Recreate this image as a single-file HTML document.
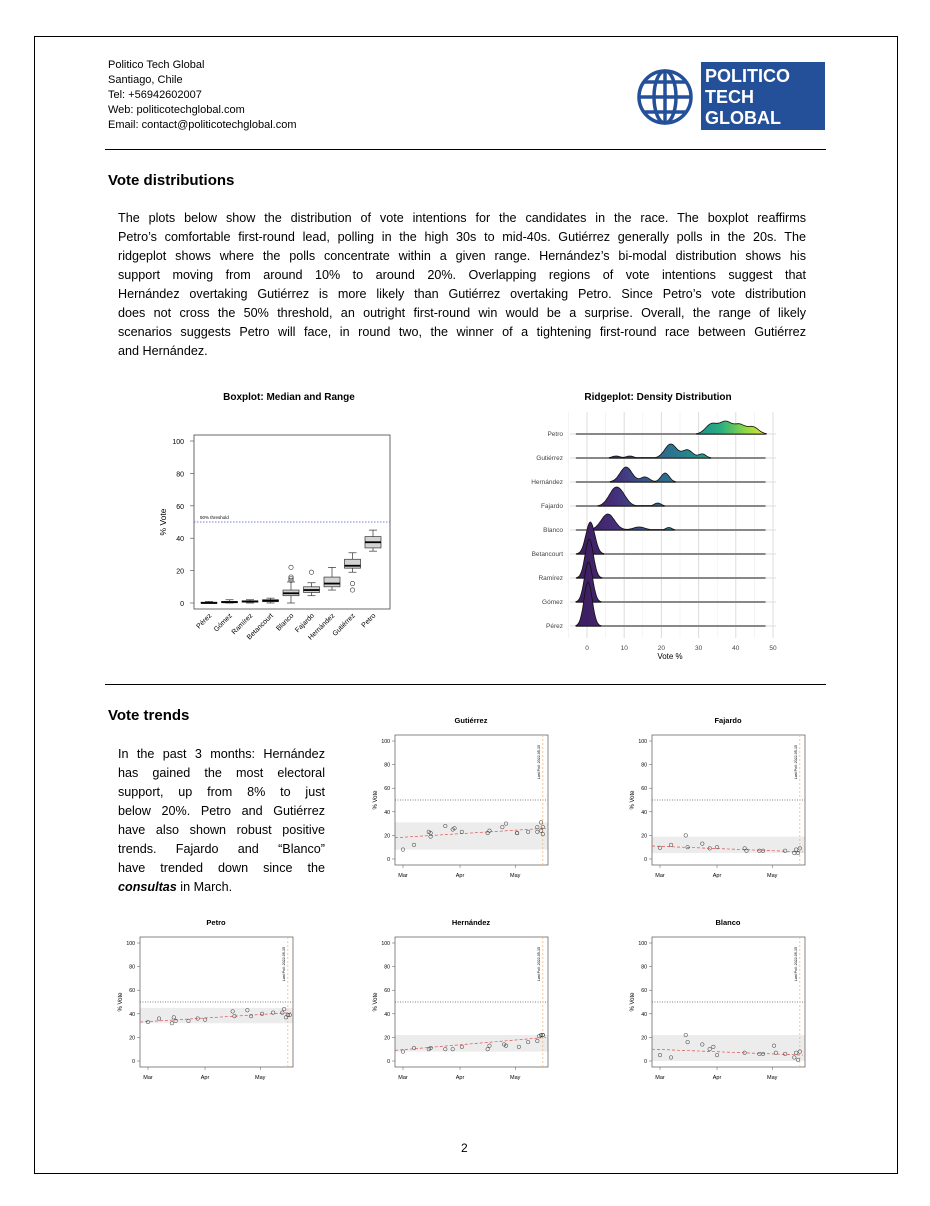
<!DOCTYPE html>
<html><head><meta charset="utf-8"><style>
body{margin:0;width:930px;height:1206px;background:#fff;position:relative;font-family:"Liberation Sans",sans-serif;color:#000;overflow:hidden}
.abs{position:absolute}
.hdr{left:108px;top:58px;font-size:11px;line-height:15px}
.p{font-size:12.6px;line-height:19px}
.p div{text-align:justify;text-align-last:justify;white-space:nowrap}
.p div.l{text-align-last:left}
h2{position:absolute;margin:0;font-size:15px;font-weight:bold}
</style></head><body>
<div class="abs" style="left:34px;top:36px;width:862px;height:1136px;border:1px solid #000"></div>
<div class="abs hdr">Politico Tech Global<br>Santiago, Chile<br>Tel: +56942602007<br>Web: politicotechglobal.com<br>Email: contact@politicotechglobal.com</div>
<svg class="abs" style="left:630px;top:60px" width="200" height="75">
<g fill="none" stroke="#24509a" stroke-width="3.5"><circle cx="35" cy="37" r="26"/><ellipse cx="35" cy="37" rx="11" ry="26"/><line x1="35" y1="11" x2="35" y2="63"/><line x1="9" y1="37" x2="61" y2="37"/><path d="M14 22 H56 M14 52 H56"/></g>
<rect x="71" y="2" width="124" height="68" fill="#24509a"/>
<text x="75" y="22" fill="#fff" font-size="18" font-weight="bold" font-family="Liberation Sans">POLITICO</text>
<text x="75" y="43" fill="#fff" font-size="18" font-weight="bold" font-family="Liberation Sans">TECH</text>
<text x="75" y="64" fill="#fff" font-size="18" font-weight="bold" font-family="Liberation Sans">GLOBAL</text></svg>
<div class="abs" style="left:105px;top:149px;width:721px;border-top:1px solid #000"></div>
<h2 style="left:108px;top:172px">Vote distributions</h2>
<div class="abs p" style="left:118px;top:209px;width:688px">
<div>The plots below show the distribution of vote intentions for the candidates in the race. The boxplot reaffirms</div>
<div>Petro’s comfortable first-round lead, polling in the high 30s to mid-40s. Gutiérrez generally polls in the 20s. The</div>
<div>ridgeplot shows where the polls concentrate within a given range. Hernández’s bi-modal distribution shows his</div>
<div>support moving from around 10% to around 20%. Overlapping regions of vote intentions suggest that</div>
<div>Hernández overtaking Gutiérrez is more likely than Gutiérrez overtaking Petro. Since Petro’s vote distribution</div>
<div>does not cross the 50% threshold, an outright first-round win would be a surprise. Overall, the range of likely</div>
<div>scenarios suggests Petro will face, in round two, the winner of a tightening first-round race between Gutiérrez</div>
<div class="l">and Hernández.</div></div>
<div class="abs" style="left:105px;top:684px;width:721px;border-top:1px solid #000"></div>
<h2 style="left:108px;top:707px">Vote trends</h2>
<div class="abs p" style="left:118px;top:745px;width:207px">
<div>In the past 3 months: Hernández</div>
<div>has gained the most electoral</div>
<div>support, up from 8% to just</div>
<div>below 20%. Petro and Gutiérrez</div>
<div>have also shown robust positive</div>
<div>trends. Fajardo and “Blanco”</div>
<div>have trended down since the</div>
<div class="l"><b><i>consultas</i></b> in March.</div></div>
<div class="abs" style="left:461px;top:1141px;font-size:12px">2</div>
<svg id="ch" class="abs" style="left:0;top:0" width="930" height="1206" font-family="Liberation Sans">
<defs><linearGradient id="vir" gradientUnits="userSpaceOnUse" x1="587" y1="0" x2="773" y2="0">
<stop offset="0" stop-color="#3f1f63"/><stop offset="0.15" stop-color="#452f7a"/><stop offset="0.3" stop-color="#3b528b"/><stop offset="0.45" stop-color="#2c728e"/><stop offset="0.6" stop-color="#21918c"/><stop offset="0.72" stop-color="#28ae80"/><stop offset="0.85" stop-color="#8fd744"/><stop offset="1" stop-color="#fde725"/></linearGradient></defs>
</svg>
<script>
// ---- Boxplot data ----
const boxCats=["Pérez","Gómez","Ramírez","Betancourt","Blanco","Fajardo","Hernández","Gutiérrez","Petro"];
const boxMin=[0,0,0,0,0,4.5,8,19,32];
const boxQ1=[0,0.2,0.5,0.8,4.5,6.5,10,21.5,34];
const boxMed=[0,0.5,1,1.5,6,8,12,23,37.5];
const boxQ3=[0.5,1,1.3,2,8,10,16,27,41];
const boxMax=[1,2,2,3,13,12.5,22,31,45];
const boxOut=[[],[],[],[],[14,15,16,22],[19],[],[8,12],[]];
const boxTicks=[0,20,40,60,80,100];
// ---- Ridgeplot data (peaks: [center, sd, height px]) ----
const ridgeCats=["Petro","Gutiérrez","Hernández","Fajardo","Blanco","Betancourt","Ramírez","Gómez","Pérez"];
const ridgePeaks=[[[33.5,1.6,10],[37.3,1.6,12],[41,1.5,9],[44.6,1.5,7]],
[[7.8,1,2],[11.5,1,2],[22.5,1.6,14],[27,1.4,8],[31,1,4]],
[[10.5,1.6,15],[15.6,1.2,5],[21,1.1,9]],
[[7.2,1.6,13],[9.2,1.6,10],[19,0.9,3]],
[[5.6,1.8,16],[14,1.6,3],[22,0.8,2.5]],
[[0.9,1.2,32]],[[0.6,1.1,39]],[[0.4,1.1,40]],[[0.3,1.1,44]]];
const ridgeTicks=[0,10,20,30,40,50];
// ---- Trend data (days since Mar 1, % vote) ----
const trendNames=["Gutiérrez","Fajardo","Petro","Hernández","Blanco"];
const trendDays=[[0,6,14,15,15,23,27,28,32,46,47,54,56,62,62,68,73,73,75,75,76,76],
[0,6,14,15,23,27,31,46,47,54,56,68,73,74,75,76],
[0,6,13,14,15,22,27,31,46,47,54,56,62,68,73,74,75,76,77],
[0,6,14,15,23,27,32,46,47,55,56,63,68,73,74,75,76,76],
[0,6,14,15,23,27,29,31,46,54,56,62,63,68,73,74,75,76]];
const trendVals=[[8,12,23,19,22,28,25,26,23,22,24,27,30,22,22,23,23,27,31,24,21,27],
[9.5,12,20,10,13,9,10,9,7,7,7,7,5,8,5,9],
[33,36,32,37,34,34,36,35,42,38,43,38,40,41,41,44,37,39,39],
[8,11,10,11,10,10,12,10,13,14,13,12,16,17,21,22,22,22],
[5,3,22,16,14,10,12,5,7,6,6,13,7,6,3,7,1,8]];
const trendStart=[18,11,33,9,10];
const trendEnd=[26,6,41,20,5];
const bandLo=[8,5,32,8,0];
const bandHi=[31,19,45,22,22];
const trendTicks=[0,20,40,60,80,100];
const monthLabels=["Mar","Apr","May"];
const monthDays=[0,31,61];
const lastPollDay=76;

const svg=document.getElementById('ch');const NS="http://www.w3.org/2000/svg";
function mk(t,a,p){const e=document.createElementNS(NS,t);for(const k in a)e.setAttribute(k,a[k]);(p||svg).appendChild(e);return e;}
function tx(x,y,s,a,p){const e=mk('text',Object.assign({x:x,y:y},a),p);e.textContent=s;return e;}

// Boxplot
tx(289,400,"Boxplot: Median and Range",{"font-size":10,"font-weight":"bold","text-anchor":"middle"});
const bg=mk('g',{});
const by=v=>603-v*1.62, bx=i=>209+i*20.5;
mk('rect',{x:194,y:435,width:196,height:174,fill:"none",stroke:"#444","stroke-width":0.8},bg);
boxTicks.forEach(t=>{mk('line',{x1:190,x2:194,y1:by(t),y2:by(t),stroke:"#444","stroke-width":0.6},bg);tx(184,by(t)+3,t,{"font-size":7,"text-anchor":"end"},bg);});
tx(166,522,"% Vote",{"font-size":8.5,"text-anchor":"middle",transform:"rotate(-90 166 522)"},bg);
mk('line',{x1:194,x2:390,y1:by(50),y2:by(50),stroke:"#4a55c8","stroke-width":0.8,"stroke-dasharray":"1.5,1.5"},bg);
tx(200,by(50)-3,"50% threshold",{"font-size":4.5},bg);
boxCats.forEach((c,i)=>{const x=bx(i);
const g=mk('g',{},bg);
mk('line',{x1:x,x2:x,y1:by(boxMin[i]),y2:by(boxMax[i]),stroke:"#333","stroke-width":0.7},g);
mk('line',{x1:x-4,x2:x+4,y1:by(boxMin[i]),y2:by(boxMin[i]),stroke:"#333","stroke-width":0.7},g);
mk('line',{x1:x-4,x2:x+4,y1:by(boxMax[i]),y2:by(boxMax[i]),stroke:"#333","stroke-width":0.7},g);
mk('rect',{x:x-8,y:by(boxQ3[i]),width:16,height:Math.max(1,by(boxQ1[i])-by(boxQ3[i])),fill:"#d3d3d3",stroke:"#333","stroke-width":0.7},g);
mk('line',{x1:x-8,x2:x+8,y1:by(boxMed[i]),y2:by(boxMed[i]),stroke:"#000","stroke-width":1.8},g);
boxOut[i].forEach(o=>mk('circle',{cx:x,cy:by(o),r:2.2,fill:"none",stroke:"#333","stroke-width":0.6},g));
tx(x+3,616,c,{"font-size":7,"text-anchor":"end",transform:`rotate(-45 ${x+3} 616)`},bg);});

// Ridgeplot
tx(658,400,"Ridgeplot: Density Distribution",{"font-size":10,"font-weight":"bold","text-anchor":"middle"});
const rg=mk('g',{});
const rx=v=>587+v*3.72, rb=i=>434+i*24;
ridgeTicks.forEach(t=>{mk('line',{x1:rx(t),x2:rx(t),y1:412,y2:638,stroke:"#ddd","stroke-width":1},rg);tx(rx(t),650,t,{"font-size":6.5,"text-anchor":"middle",fill:"#444"},rg);
mk('line',{x1:rx(t-5),x2:rx(t-5),y1:412,y2:638,stroke:"#eee","stroke-width":0.6},rg);});
tx(670,659,"Vote %",{"font-size":8,"text-anchor":"middle"},rg);
ridgeCats.forEach((c,i)=>{const b=rb(i);
mk('line',{x1:570,x2:776,y1:b,y2:b,stroke:"#ddd","stroke-width":1},rg);
tx(563,b+2,c,{"font-size":6.5,"text-anchor":"end",fill:"#444"},rg);});
ridgeCats.forEach((c,i)=>{const b=rb(i);
mk('line',{x1:rx(-3),x2:rx(48),y1:b,y2:b,stroke:"#888","stroke-width":2},rg);
const pk=ridgePeaks[i];let pts=[];
for(let v=-4;v<=50;v+=0.25){let h=0;pk.forEach(p=>{h+=p[2]*Math.exp(-0.5*((v-p[0])/p[1])**2);});if(h>0.3)pts.push([rx(v),b-h]);}
if(!pts.length)return;
const d="M"+pts[0][0]+","+b+" "+pts.map(p=>"L"+p[0].toFixed(1)+","+p[1].toFixed(1)).join(" ")+" L"+pts[pts.length-1][0]+","+b+"Z";
const e=mk('path',{d:d,fill:"url(#vir)",stroke:"#111","stroke-width":0.8},rg);

});

// Trend charts
const boxesX=[395,652,140,395,652], boxesY=[735,735,937,937,937];
trendNames.forEach((n,k)=>{const x0=boxesX[k],y0=boxesY[k];
const g=mk('g',{});
const X=d=>x0+8+d*1.84, Y=v=>y0+6+(100-v)*1.18;
tx(x0+76,y0-12,n,{"font-size":7.5,"font-weight":"bold","text-anchor":"middle"},g);
mk('rect',{x:x0,y:Y(bandHi[k]),width:153,height:Y(bandLo[k])-Y(bandHi[k]),fill:"#ececec"},g);
mk('rect',{x:x0,y:y0,width:153,height:130,fill:"none",stroke:"#555","stroke-width":0.7},g);
trendTicks.forEach(t=>{mk('line',{x1:x0-3,x2:x0,y1:Y(t),y2:Y(t),stroke:"#555","stroke-width":0.5},g);tx(x0-5,Y(t)+2,t,{"font-size":5.2,"text-anchor":"end"},g);});
tx(x0-18,y0+65,"% Vote",{"font-size":6,"text-anchor":"middle",transform:`rotate(-90 ${x0-18} ${y0+65})`},g);
monthLabels.forEach((m,j)=>{mk('line',{x1:X(monthDays[j]),x2:X(monthDays[j]),y1:y0+130,y2:y0+133,stroke:"#555","stroke-width":0.5},g);tx(X(monthDays[j]),y0+142,m,{"font-size":5.5,"text-anchor":"middle"},g);});
mk('line',{x1:x0,x2:x0+153,y1:Y(50),y2:Y(50),stroke:"#556","stroke-width":0.7,"stroke-dasharray":"1,1.5"},g);
mk('line',{x1:X(lastPollDay),x2:X(lastPollDay),y1:y0,y2:y0+130,stroke:"#f5b060","stroke-width":0.7,"stroke-dasharray":"2,2"},g);
const lx=X(lastPollDay)-3;tx(lx,y0+10,"Last Poll: 2022-05-15",{"font-size":3.6,"text-anchor":"end",transform:`rotate(-90 ${lx} ${y0+10})`},g);
mk('line',{x1:x0,x2:X(lastPollDay)+3,y1:Y(trendStart[k]),y2:Y(trendEnd[k]),stroke:"#e05050","stroke-width":0.7,"stroke-dasharray":"3,2"},g);
trendDays[k].forEach((d,j)=>mk('circle',{cx:X(d),cy:Y(trendVals[k][j]),r:1.8,fill:"none",stroke:"#333","stroke-width":0.5},g));});
</script>
</body></html>
